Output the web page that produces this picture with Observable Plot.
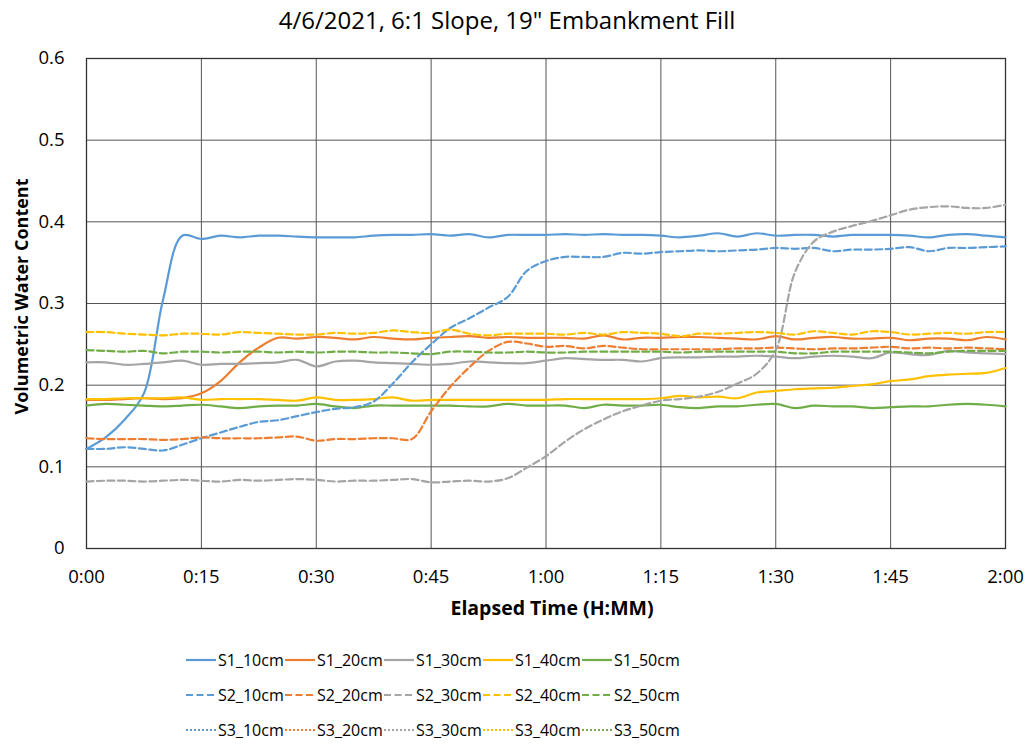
<!DOCTYPE html>
<html>
<head>
<meta charset="utf-8">
<script src="https://cdn.jsdelivr.net/npm/d3@7"></script>
<script src="https://cdn.jsdelivr.net/npm/@observablehq/plot@0.6"></script>
<style>
  html, body { margin: 0; padding: 0; background: #fff; }
  body { width: 1032px; height: 749px; position: relative; overflow: hidden; font-family: "Open Sans", Lato, sans-serif; color: #000; }
  #chart { position: absolute; left: 0; top: 0; }
  #title { position: absolute; left: 0; top: 3px; width: 1014px; text-align: center; font-size: 24px; z-index: 2; }
  .leg { position: absolute; display: flex; align-items: center; font-size: 16px; white-space: nowrap; }
  .leg svg { margin-right: 2px; }
</style>
</head>
<body>
<div id="chart"></div>
<div id="title">4/6/2021, 6:1 Slope, 19" Embankment Fill</div>
<div id="legend"></div>
<script>
// Elapsed time in minutes
const minutes = [0, 2.5, 5, 7.5, 10, 12.5, 15, 17.5, 20, 22.5, 25, 27.5, 30, 32.5, 35, 37.5, 40, 42.5, 45, 47.5, 50, 52.5, 55, 57.5, 60, 62.5, 65, 67.5, 70, 72.5, 75, 77.5, 80, 82.5, 85, 87.5, 90, 92.5, 95, 97.5, 100, 102.5, 105, 107.5, 110, 112.5, 115, 117.5, 120];

const S1_10cm = [0.122, 0.136, 0.158, 0.190, 0.305, 0.383, 0.379, 0.383, 0.381, 0.383, 0.383, 0.382, 0.381, 0.381, 0.381, 0.383, 0.384, 0.384, 0.385, 0.383, 0.385, 0.381, 0.384, 0.384, 0.384, 0.385, 0.384, 0.385, 0.384, 0.384, 0.383, 0.381, 0.383, 0.386, 0.382, 0.386, 0.383, 0.384, 0.384, 0.382, 0.384, 0.384, 0.384, 0.383, 0.381, 0.384, 0.385, 0.383, 0.381];
const S1_20cm = [0.182, 0.182, 0.183, 0.184, 0.183, 0.184, 0.190, 0.205, 0.228, 0.246, 0.258, 0.257, 0.259, 0.258, 0.256, 0.259, 0.257, 0.256, 0.258, 0.259, 0.260, 0.258, 0.259, 0.258, 0.258, 0.258, 0.257, 0.261, 0.256, 0.258, 0.258, 0.259, 0.259, 0.258, 0.257, 0.256, 0.260, 0.256, 0.258, 0.259, 0.257, 0.257, 0.258, 0.255, 0.257, 0.257, 0.255, 0.259, 0.256];
const S1_30cm = [0.228, 0.228, 0.225, 0.226, 0.228, 0.230, 0.225, 0.226, 0.226, 0.227, 0.228, 0.231, 0.223, 0.229, 0.230, 0.228, 0.227, 0.226, 0.225, 0.226, 0.229, 0.228, 0.227, 0.227, 0.230, 0.233, 0.232, 0.231, 0.231, 0.229, 0.233, 0.234, 0.234, 0.235, 0.235, 0.236, 0.235, 0.233, 0.235, 0.236, 0.235, 0.233, 0.240, 0.238, 0.237, 0.242, 0.240, 0.239, 0.238];
const S1_40cm = [0.183, 0.183, 0.184, 0.184, 0.184, 0.185, 0.182, 0.183, 0.183, 0.183, 0.182, 0.181, 0.185, 0.182, 0.182, 0.183, 0.185, 0.181, 0.182, 0.182, 0.182, 0.182, 0.182, 0.182, 0.182, 0.183, 0.183, 0.183, 0.183, 0.183, 0.184, 0.187, 0.185, 0.186, 0.184, 0.191, 0.193, 0.195, 0.196, 0.197, 0.199, 0.201, 0.205, 0.207, 0.211, 0.213, 0.214, 0.215, 0.221];
const S1_50cm = [0.175, 0.177, 0.176, 0.175, 0.174, 0.175, 0.176, 0.174, 0.172, 0.174, 0.175, 0.175, 0.177, 0.174, 0.172, 0.175, 0.175, 0.175, 0.175, 0.175, 0.174, 0.174, 0.177, 0.175, 0.175, 0.175, 0.172, 0.176, 0.175, 0.175, 0.176, 0.173, 0.172, 0.174, 0.174, 0.176, 0.177, 0.172, 0.175, 0.174, 0.174, 0.172, 0.173, 0.174, 0.174, 0.176, 0.177, 0.176, 0.174];
const S2_10cm = [0.122, 0.122, 0.124, 0.122, 0.120, 0.127, 0.135, 0.142, 0.149, 0.155, 0.157, 0.162, 0.167, 0.171, 0.173, 0.180, 0.202, 0.228, 0.250, 0.270, 0.282, 0.295, 0.308, 0.340, 0.352, 0.357, 0.357, 0.357, 0.362, 0.361, 0.363, 0.364, 0.365, 0.364, 0.365, 0.366, 0.368, 0.367, 0.368, 0.364, 0.366, 0.366, 0.367, 0.369, 0.364, 0.368, 0.368, 0.369, 0.370];
const S2_20cm = [0.135, 0.134, 0.134, 0.134, 0.133, 0.134, 0.136, 0.135, 0.135, 0.135, 0.136, 0.137, 0.132, 0.134, 0.134, 0.135, 0.135, 0.134, 0.168, 0.198, 0.222, 0.242, 0.253, 0.251, 0.247, 0.248, 0.245, 0.248, 0.246, 0.244, 0.244, 0.244, 0.244, 0.244, 0.245, 0.245, 0.246, 0.245, 0.244, 0.245, 0.245, 0.246, 0.247, 0.245, 0.246, 0.245, 0.246, 0.245, 0.244];
const S2_30cm = [0.082, 0.083, 0.083, 0.082, 0.083, 0.084, 0.083, 0.082, 0.084, 0.083, 0.084, 0.085, 0.084, 0.082, 0.083, 0.083, 0.084, 0.085, 0.081, 0.082, 0.083, 0.082, 0.086, 0.099, 0.113, 0.131, 0.146, 0.158, 0.168, 0.175, 0.181, 0.183, 0.186, 0.192, 0.202, 0.214, 0.243, 0.338, 0.376, 0.388, 0.395, 0.401, 0.408, 0.415, 0.418, 0.419, 0.417, 0.417, 0.421];
const S2_40cm = [0.265, 0.265, 0.263, 0.262, 0.261, 0.263, 0.263, 0.262, 0.265, 0.264, 0.263, 0.262, 0.262, 0.264, 0.263, 0.264, 0.267, 0.265, 0.264, 0.268, 0.263, 0.261, 0.263, 0.263, 0.263, 0.262, 0.264, 0.262, 0.265, 0.264, 0.263, 0.260, 0.263, 0.263, 0.264, 0.265, 0.264, 0.262, 0.266, 0.264, 0.262, 0.266, 0.265, 0.262, 0.263, 0.264, 0.263, 0.265, 0.265];
const S2_50cm = [0.243, 0.242, 0.241, 0.242, 0.239, 0.241, 0.241, 0.240, 0.241, 0.241, 0.240, 0.241, 0.240, 0.241, 0.241, 0.240, 0.240, 0.239, 0.238, 0.241, 0.241, 0.240, 0.240, 0.241, 0.240, 0.240, 0.241, 0.241, 0.241, 0.241, 0.241, 0.240, 0.241, 0.241, 0.241, 0.241, 0.241, 0.239, 0.239, 0.241, 0.241, 0.241, 0.241, 0.240, 0.239, 0.241, 0.242, 0.242, 0.242];

const seriesNames = ["S1_10cm","S1_20cm","S1_30cm","S1_40cm","S1_50cm","S2_10cm","S2_20cm","S2_30cm","S2_40cm","S2_50cm","S3_10cm","S3_20cm","S3_30cm","S3_40cm","S3_50cm"];
const seriesValues = [S1_10cm, S1_20cm, S1_30cm, S1_40cm, S1_50cm, S2_10cm, S2_20cm, S2_30cm, S2_40cm, S2_50cm, [], [], [], [], []];
const depthColors = ["#5B9BD5", "#ED7D31", "#A5A5A5", "#FFC000", "#70AD47"];
const sensorDash = ["none", "7,3.5", "2,2"];
const xTicks = [0, 15, 30, 45, 60, 75, 90, 105, 120];
const yTicks = [0, 0.1, 0.2, 0.3, 0.4, 0.5, 0.6];

const series = seriesNames.map((name, i) => ({
  name,
  color: depthColors[i % 5],
  dash: sensorDash[Math.floor(i / 5)],
  rows: seriesValues[i].map((v, j) => ({t: minutes[j], v}))
}));

const fmtTime = m => `${Math.floor(m / 60)}:${String(m % 60).padStart(2, "0")}`;
const fmtY = d => d === 0 ? "0" : d.toFixed(1);

const lineMarks = series.filter(s => s.rows.length).map(s =>
  Plot.line(s.rows, {x: "t", y: "v", stroke: s.color, strokeWidth: 2.2,
    strokeDasharray: s.dash === "none" ? null : s.dash, curve: "catmull-rom"})
);

const chart = Plot.plot({
  width: 1032,
  height: 628,
  marginTop: 58,
  marginLeft: 86,
  marginRight: 27,
  marginBottom: 80,
  style: {fontFamily: "'Open Sans', Lato, sans-serif", fontSize: "18px", color: "#000", background: "transparent"},
  x: {domain: [0, 120]},
  y: {domain: [0, 0.6]},
  marks: [
    Plot.gridY(yTicks, {stroke: "#555", strokeOpacity: 1, strokeWidth: 1}),
    Plot.gridX(xTicks, {stroke: "#555", strokeOpacity: 1, strokeWidth: 1}),
    Plot.frame({stroke: "#333", strokeWidth: 1.3}),
    Plot.axisY(yTicks, {tickSize: 0, tickPadding: 22, tickFormat: fmtY, label: null, fontSize: 18.5}),
    Plot.axisX(xTicks, {tickSize: 0, tickPadding: 21, tickFormat: fmtTime, label: null, fontSize: 18.5}),
    Plot.text(["Volumetric Water Content"], {text: d => d, frameAnchor: "left", rotate: -90, dx: -64, dy: -7, textAnchor: "middle", lineAnchor: "middle", fontWeight: "bold", fontSize: 18}),
    Plot.text(["Elapsed Time (H:MM)"], {text: d => d, frameAnchor: "bottom", dx: 6, dy: 60, textAnchor: "middle", lineAnchor: "middle", fontWeight: "bold", fontSize: 19.5}),
    ...lineMarks
  ]
});
document.getElementById("chart").appendChild(chart);

// Legend (3 rows x 5 columns)
const legend = document.getElementById("legend");
series.forEach((s, i) => {
  const col = i % 5, row = Math.floor(i / 5);
  const div = document.createElement("div");
  div.className = "leg";
  div.style.left = (186 + col * 99) + "px";
  div.style.top = (660 + row * 35 - 12) + "px";
  div.style.height = "24px";
  const sw = d3.create("svg").attr("width", 30).attr("height", 6);
  sw.append("line").attr("x1", 0).attr("x2", 30).attr("y1", 3).attr("y2", 3)
    .attr("stroke", s.color).attr("stroke-width", 2.2)
    .attr("stroke-dasharray", s.dash === "none" ? null : s.dash);
  div.appendChild(sw.node());
  const span = document.createElement("span");
  span.textContent = s.name;
  div.appendChild(span);
  legend.appendChild(div);
});
</script>
</body>
</html>
